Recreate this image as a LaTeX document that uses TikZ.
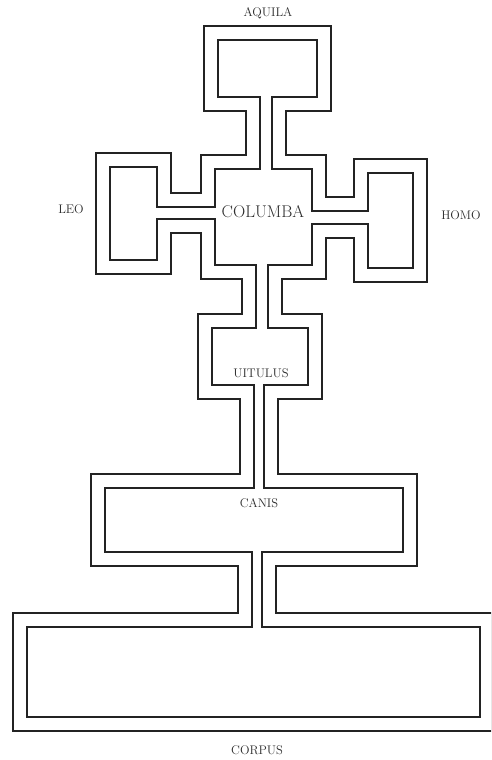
\documentclass[tikz,border=0pt]{standalone}
\begin{document}
\begin{tikzpicture}[x=1pt,y=-1pt,
  lab/.style={text=labgray,font=\fontsize{12.5}{14}\selectfont,inner sep=0pt},
  biglab/.style={text=labgray,font=\fontsize{17}{19}\selectfont,inner sep=0pt}]
\definecolor{ink}{RGB}{35,35,35}
\definecolor{labgray}{RGB}{45,45,45}
\useasboundingbox (0,0) rectangle (491,760);
\clip (0,0) rectangle (491,760);
\fill[white] (0,0) rectangle (491,760);
% rooms and passages (inner white region), x1/y1/x2/y2
\def\rects{218/40/317/97, 260/90/272/176, 215/169/312/265, 150/207/222/219, 110/167/157/260, 305/211/375/224, 368/173/413/268, 256/258/268/335, 212/328/308/385, 254/378/264/495, 105/488/403/552, 252/545/262/634, 27/627/480/717}
% same, but CORPUS's outer wall runs off the right edge
\def\outrects{218/40/317/97, 260/90/272/176, 215/169/312/265, 150/207/222/219, 110/167/157/260, 305/211/375/224, 368/173/413/268, 256/258/268/335, 212/328/308/385, 254/378/264/495, 105/488/403/552, 252/545/262/634, 27/627/540/717}
\def\wallout{15}
\def\wallin{13}
\def\halfw{1}
\foreach \a/\b/\c/\d in \outrects {\fill[ink] ({\a-\wallout},{\b-\wallout}) rectangle ({\c+\wallout},{\d+\wallout});}
\foreach \a/\b/\c/\d in \outrects {\fill[white] ({\a-\wallin},{\b-\wallin}) rectangle ({\c+\wallin},{\d+\wallin});}
\foreach \a/\b/\c/\d in \rects {\fill[ink] ({\a-\halfw},{\b-\halfw}) rectangle ({\c+\halfw},{\d+\halfw});}
\foreach \a/\b/\c/\d in \rects {\fill[white] ({\a+\halfw},{\b+\halfw}) rectangle ({\c-\halfw},{\d-\halfw});}
% labels
\node[lab] (aquila) at (268,13) {AQUILA};
\node[lab] (leo) at (71,209) {LEO};
\node[lab] (homo) at (461,215) {HOMO};
\node[biglab] (columba) at (263,212) {COLUMBA};
\node[lab] (uitulus) at (261,373) {UITULUS};
\node[lab] (canis) at (259,503) {CANIS};
\node[lab] (corpus) at (257,750) {CORPUS};
\end{tikzpicture}
\end{document}
